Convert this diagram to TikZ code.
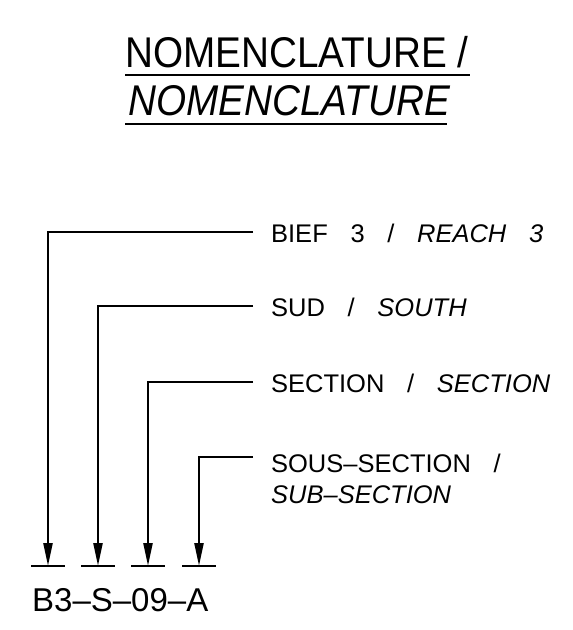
\documentclass[tikz,border=0pt]{standalone}
\usepackage{fontspec}
\setmainfont{Liberation Sans}
\newfontfamily\titlefont[FakeStretch=0.9]{Liberation Sans}
\newfontfamily\labelfont[WordSpace=3.2]{Liberation Sans}
\usetikzlibrary{positioning,arrows.meta,calc}

\begin{document}
\begin{tikzpicture}[x=1pt,y=-1pt,line width=2.3pt,
    leader/.style={-{Triangle[length=23pt,width=9pt]}},
    lbl/.style={anchor=base west,inner sep=0pt,font=\labelfont\fontsize{25.5}{30}\selectfont},
    ttl/.style={anchor=base west,inner sep=0pt,font=\titlefont\fontsize{43}{48}\selectfont}]
  \useasboundingbox (0,0) rectangle (573,630);
  % title, two lines, underlined
  \node[ttl] (title1) at (124,67) {NOMENCLATURE /};
  \node[ttl] (title2) at (127,115) {\itshape NOMENCLATURE};
  \draw[line width=2pt] (125,75) -- (470,75);
  \draw[line width=2pt] (125,124) -- (447,124);
  % labels
  \node[lbl] (reach) at (270,242) {BIEF 3 / \textit{REACH 3}};
  \node[lbl] (south) at (270,316) {SUD / \textit{SOUTH}};
  \node[lbl] (section) at (270,392) {SECTION / \textit{SECTION}};
  \node[lbl] (subsec) at (270,472) {SOUS–SECTION /};
  \node[lbl] (subsecb) at (270,503) {\textit{SUB–SECTION}};
  % leaders down to the code
  \foreach \n/\x/\y in {1/48/232, 2/98/306, 3/148/382, 4/199/457} {
    \coordinate (start\n) at (253,\y);
    \coordinate (tip\n) at (\x,566);
    \draw[leader] (start\n) -| (tip\n);
    \draw (\x-17,566) -- (\x+17,566);
  }
  \node[anchor=base west,inner sep=0pt,font=\fontsize{33}{38}\selectfont] (code) at (31,611) {B3–S–09–A};
\end{tikzpicture}
\end{document}
